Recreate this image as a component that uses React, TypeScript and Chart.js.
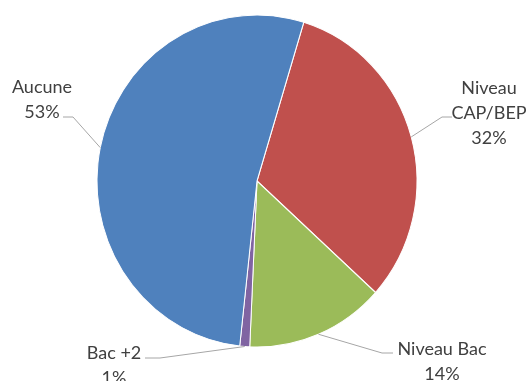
import React, { useEffect, useRef } from "react";
import { Chart, registerables } from "chart.js";

Chart.register(...registerables);

const categories = ["Niveau CAP/BEP", "Niveau Bac", "Bac +2", "Aucune"];
const values = [32, 14, 1, 53];
const colors = ["#C0504D", "#9BBB59", "#8064A2", "#4F81BD"];
const labelLines = [["Niveau", "CAP/BEP"], ["Niveau Bac"], ["Bac +2"], ["Aucune"]];

// label annotation layout: text centre x, first line y, elbow and end of leader line
const labelLayout = [
  { tx: 489, ty: 88, ex: 442, ey: 117, lx: 452, ly: 117 },
  { tx: 442, ty: 349, ex: 382, ey: 353, lx: 393, ly: 353 },
  { tx: 114, ty: 353, ex: 160, ey: 358, lx: 145, ly: 358 },
  { tx: 42, ty: 87, ex: 73, ey: 117, lx: 63, ly: 117 },
];

const SCALE_Y = 1.0375;
const FONT = "18px Lato, 'Noto Sans', sans-serif";

const ellipsePlugin = {
  id: "ellipseAndLabels",
  beforeDatasetsDraw(chart: any) {
    const meta = chart.getDatasetMeta(0);
    const arc = meta.data[0];
    const { x, y } = arc.getProps(["x", "y"], true);
    const ctx = chart.ctx;
    ctx.save();
    ctx.translate(x, y);
    ctx.scale(1, SCALE_Y);
    ctx.translate(-x, -y);
  },
  afterDatasetsDraw(chart: any) {
    const ctx = chart.ctx;
    ctx.restore();
    const meta = chart.getDatasetMeta(0);
    const data = chart.data.datasets[0].data as number[];
    const total = data.reduce((a, b) => a + b, 0);
    ctx.save();
    meta.data.forEach((el: any, i: number) => {
      const p = el.getProps(["x", "y", "startAngle", "endAngle", "outerRadius"], true);
      const mid = (p.startAngle + p.endAngle) / 2;
      const px = p.x + p.outerRadius * Math.cos(mid);
      const py = p.y + p.outerRadius * Math.sin(mid) * SCALE_Y;
      const L = labelLayout[i];
      ctx.strokeStyle = "#A6A6A6";
      ctx.lineWidth = 1;
      ctx.beginPath();
      ctx.moveTo(px, py);
      ctx.lineTo(L.ex, L.ey);
      ctx.lineTo(L.lx, L.ly);
      ctx.stroke();
      const pct = Math.round((data[i] / total) * 100) + "%";
      const lines = [...labelLines[i], pct];
      ctx.fillStyle = "#404040";
      ctx.font = FONT;
      ctx.textAlign = "center";
      ctx.textBaseline = "middle";
      lines.forEach((t, k) => ctx.fillText(t, L.tx, L.ty + k * 25));
    });
    ctx.restore();
  },
};

export default function App() {
  const ref = useRef<HTMLCanvasElement>(null);
  useEffect(() => {
    document.body.style.margin = "0";
    const chart = new Chart(ref.current!, {
      type: "pie",
      data: {
        labels: categories,
        datasets: [
          {
            data: values,
            backgroundColor: colors,
            borderColor: "#ffffff",
            borderWidth: 1,
          },
        ],
      },
      options: {
        animation: false,
        responsive: false,
        rotation: 17,
        layout: { padding: { left: 96.5, right: 109.5, top: 11, bottom: 30 } },
        plugins: { legend: { display: false }, tooltip: { enabled: false } },
      },
      plugins: [ellipsePlugin],
    });
    return () => chart.destroy();
  }, []);
  return (
    <div style={{ position: "fixed", left: 0, top: 0, width: 527, height: 381, background: "#fff" }}>
      <canvas ref={ref} width={527} height={381} style={{ width: 527, height: 381 }} />
    </div>
  );
}
